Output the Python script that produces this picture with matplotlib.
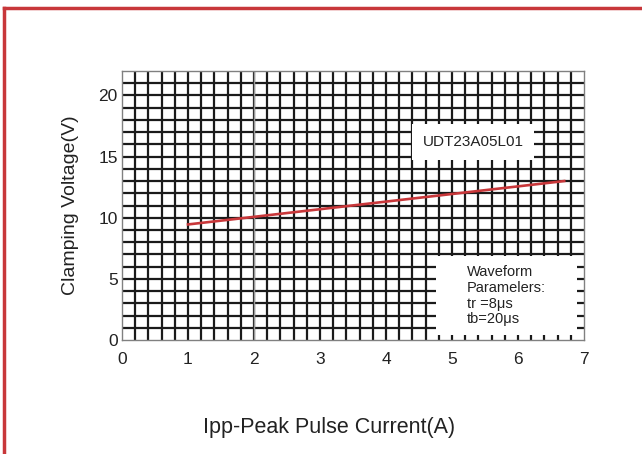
import numpy as np
import matplotlib.pyplot as plt
from matplotlib.patches import Rectangle
from matplotlib.lines import Line2D

plt.rcParams['font.family'] = ['Liberation Sans', 'DejaVu Sans']

# Data
ipp = [1.0, 6.7]          # A
vc = [9.45, 13.0]         # V
x_ticks = [0, 1, 2, 3, 4, 5, 6, 7]
y_ticks = [0, 5, 10, 15, 20]
part_name = "UDT23A05L01"
wave_text = "Waveform\nParamelers:\ntr =8\u03bcs\ntb=20\u03bcs"

txt = '#222222'
red = '#c8373a'

fig = plt.figure(figsize=(6.42, 4.54), dpi=100)
ax = fig.add_axes([122/642, 1 - 340/454, 462/642, 269/454])
ax.set_xlim(0, 7)
ax.set_ylim(0, 22)

# Grid (inner lines only, edges are the frame)
gx = np.arange(0.2, 7.0, 0.2)
gy = np.arange(1, 22, 1)
ax.vlines(gx, 0, 22, colors='#1a1a1a', lw=1.6, zorder=1)
ax.hlines(gy, 0, 7, colors='#1a1a1a', lw=1.6, zorder=1)
ax.vlines([2], 0, 22, colors='#9a9a9a', lw=1.0, zorder=1.1)

# white boxes behind the annotations
ax.add_patch(Rectangle((4.39, 14.75), 1.85, 2.9, facecolor='white',
                       edgecolor='none', zorder=2))
ax.add_patch(Rectangle((4.76, 0.4), 2.13, 6.5, facecolor='white',
                       edgecolor='none', zorder=2))

ax.plot(ipp, vc, color=red, lw=1.9, zorder=3)

ax.text(5.32, 16.2, part_name, fontsize=11, color=txt, ha='center',
        va='center', zorder=4)
ax.text(5.23, 6.1, wave_text, fontsize=10.5, color=txt, ha='left',
        va='top', linespacing=1.15, zorder=4)

for s in ax.spines.values():
    s.set_color('#808080')
    s.set_linewidth(1.0)
    s.set_zorder(5)

ax.set_xticks(x_ticks)
ax.set_yticks(y_ticks)
ax.tick_params(length=0, labelsize=12.5, colors=txt)
ax.tick_params(axis='x', pad=9)
ax.tick_params(axis='y', pad=3)

ax.set_xlabel("Ipp-Peak Pulse Current(A)", fontsize=15.5, color=txt)
ax.xaxis.set_label_coords((329 - 122) / 462, -0.285)
ax.set_ylabel("Clamping Voltage(V)", fontsize=14, color=txt, labelpad=14)

# red outer frame
fig.add_artist(Line2D([4/642, 1], [1 - 8/454, 1 - 8/454], color=red, lw=2.5,
                      transform=fig.transFigure))
fig.add_artist(Line2D([4/642, 4/642], [0, 1 - 8/454], color=red, lw=2.5,
                      transform=fig.transFigure))

fig.savefig('out.png', dpi=100, facecolor='white')
